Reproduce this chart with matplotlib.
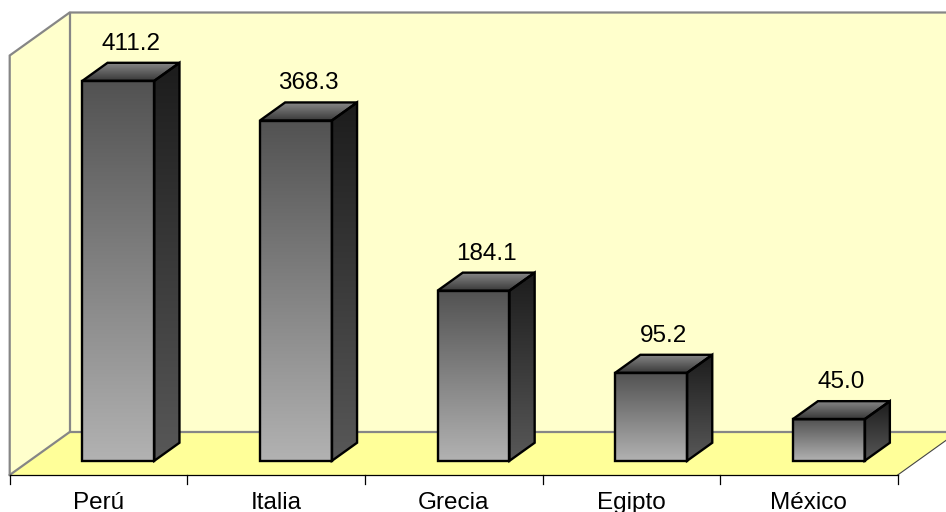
import numpy as np
import matplotlib
matplotlib.use("Agg")
import matplotlib.pyplot as plt
from matplotlib.patches import Polygon
from matplotlib.colors import LinearSegmentedColormap

plt.rcParams['font.family'] = ['Liberation Sans', 'DejaVu Sans']

# Data
categories = ["Perú", "Italia", "Grecia", "Egipto", "México"]
values = [411.2, 368.3, 184.1, 95.2, 45.0]
value_labels = ["411.2", "368.3", "184.1", "95.2", "45.0"]

# Figure geometry (pixels) used to build the pseudo-3D scales
W, H, DPI = 946, 512, 100
S = 177.6          # pixels per category
K = 0.924          # pixels per value unit
X0 = 98.5          # pixel x of first category centre
Y0 = 37            # pixel height (from bottom) of the floor's front edge
DEPTH_PX = (60, 43)

Dx = DEPTH_PX[0] / S
Dy = DEPTH_PX[1] / K
WALL_TOP = 454
BAR_W = 0.405
BAR_FRONT, BAR_BACK = 0.33, 0.75


def proj(c, v, d):
    """Project (category, value, depth) onto the 2-D data plane."""
    return (c + d * Dx, v + d * Dy)


fig = plt.figure(figsize=(W / DPI, H / DPI), dpi=DPI)
ax = fig.add_axes([0, 0, 1, 1])
xlim = (-X0 / S, (W - X0) / S)
ylim = (-Y0 / K, (H - Y0) / K)
ax.set_xlim(*xlim)
ax.set_ylim(*ylim)
ax.axis("off")

wall_col = "#FFFFCC"
floor_col = "#FFFF99"
edge_gray = "#868686"
n = len(categories)
cL, cR = -0.5, n - 0.5 + 0.2

# Back wall, left wall and floor
back = [proj(cL, 0, 1), proj(cR, 0, 1), proj(cR, WALL_TOP, 1), proj(cL, WALL_TOP, 1)]
left = [proj(cL, 0, 0), proj(cL, 0, 1), proj(cL, WALL_TOP, 1), proj(cL, WALL_TOP, 0)]
floor = [proj(cL, 0, 0), proj(n - 0.5, 0, 0), proj(n - 0.5, 0, 1), proj(cR, 0, 1),
         proj(cL, 0, 1)]
for poly, col in [(back, wall_col), (left, wall_col), (floor, floor_col)]:
    ax.add_patch(Polygon(poly, closed=True, facecolor=col, edgecolor="none", zorder=1))

gray_lines = [
    [proj(cL, 0, 0), proj(cL, WALL_TOP, 0), proj(cL, WALL_TOP, 1), proj(cR, WALL_TOP, 1)],
    [proj(cL, WALL_TOP, 1), proj(cL, 0, 1), proj(cR, 0, 1)],
    [proj(cL, 0, 0), proj(cL, 0, 1)],
]
for ln in gray_lines:
    xs, ys = zip(*ln)
    ax.plot(xs, ys, color=edge_gray, lw=1.6, zorder=2, solid_joinstyle="miter")
# right edge of the floor
ax.plot([proj(n - 0.5, 0, 0)[0], proj(n - 0.5, 0, 1.4)[0]],
        [0, proj(n - 0.5, 0, 1.4)[1]], color="#444444", lw=0.8, zorder=2)

# Category axis line and ticks
ax.plot([cL, n - 0.5], [0, 0], color="black", lw=0.9, zorder=3)
tick_len = 9 / K
for i in range(n + 1):
    ax.plot([i - 0.5, i - 0.5], [0, -tick_len], color="black", lw=0.9, zorder=3)


def grad_face(verts, c_top, c_bot, z):
    verts = np.asarray(verts)
    xmin, ymin = verts.min(axis=0)
    xmax, ymax = verts.max(axis=0)
    cmap = LinearSegmentedColormap.from_list("g", [c_bot, c_top])
    grad = np.linspace(1, 0, 256).reshape(-1, 1)
    im = ax.imshow(grad, cmap=cmap, vmin=0, vmax=1, aspect="auto",
                   extent=(xmin, xmax, ymin, ymax), origin="upper",
                   interpolation="bilinear", zorder=z)
    patch = Polygon(verts, closed=True, facecolor="none", edgecolor="black",
                    lw=1.7, joinstyle="miter", zorder=z + 0.5)
    ax.add_patch(patch)
    im.set_clip_path(patch)


for i, (v, lab) in enumerate(zip(values, value_labels)):
    c0, c1 = i - BAR_W / 2, i + BAR_W / 2
    front = [proj(c0, 0, BAR_FRONT), proj(c1, 0, BAR_FRONT),
             proj(c1, v, BAR_FRONT), proj(c0, v, BAR_FRONT)]
    side = [proj(c1, 0, BAR_FRONT), proj(c1, 0, BAR_BACK),
            proj(c1, v, BAR_BACK), proj(c1, v, BAR_FRONT)]
    top = [proj(c0, v, BAR_FRONT), proj(c1, v, BAR_FRONT),
           proj(c1, v, BAR_BACK), proj(c0, v, BAR_BACK)]
    grad_face(front, "#525252", "#b2b2b2", 5)
    grad_face(side, "#1c1c1c", "#585858", 5)
    grad_face(top, "#8a8a8a", "#383838", 5)
    lx, _ = proj(i, v, (BAR_FRONT + BAR_BACK) / 2)
    _, ly = proj(i, v, BAR_BACK)
    ax.annotate(lab, xy=(lx, ly), xytext=(0, 13), textcoords="offset pixels",
                ha="center", va="baseline", fontsize=17.5, color="black", zorder=10)

for i, name in enumerate(categories):
    ax.annotate(name, xy=(i, 0), xytext=(0, -34), textcoords="offset pixels",
                ha="center", va="baseline", fontsize=17.5, color="black", zorder=10)

ax.set_xlim(*xlim)
ax.set_ylim(*ylim)
fig.savefig("out.png", dpi=DPI, facecolor="white")
